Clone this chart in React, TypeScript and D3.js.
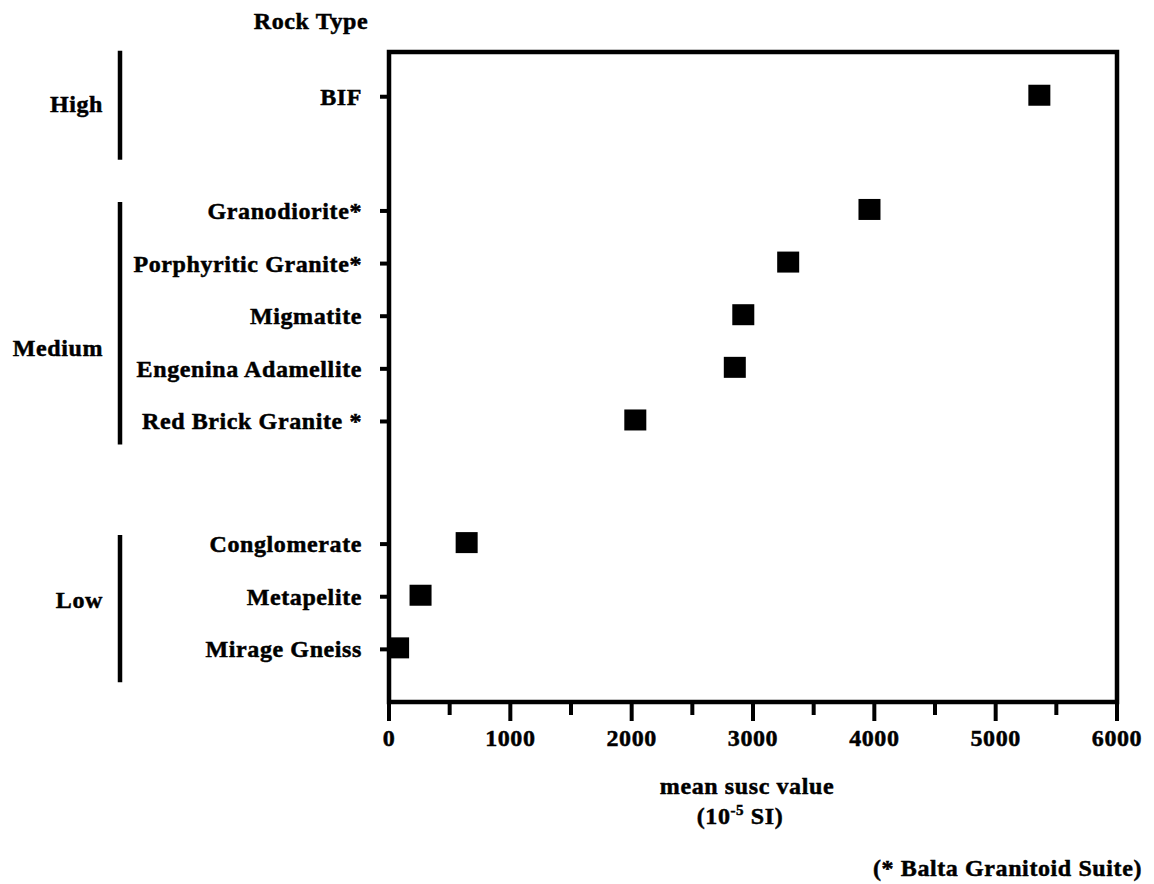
import React from "react";
import * as d3 from "d3";

// rock types, top to bottom
const ROCKS = [
  "BIF",
  "Granodiorite*",
  "Porphyritic Granite*",
  "Migmatite",
  "Engenina Adamellite",
  "Red Brick Granite *",
  "Conglomerate",
  "Metapelite",
  "Mirage Gneiss",
];
// mean susceptibility (10^-5 SI)
const SUSC = [5360, 3960, 3290, 2920, 2850, 2030, 640, 260, 75];
// row position on the (hidden) vertical axis
const ROW = [11.5, 9.33, 8.33, 7.33, 6.33, 5.33, 3, 2, 1];

const GROUPS = ["High", "Medium", "Low"];
const GROUP_MEMBERS = [[0], [1, 2, 3, 4, 5], [6, 7, 8]];

const X_MAJOR = [0, 1000, 2000, 3000, 4000, 5000, 6000];
const X_MINOR = [500, 1500, 2500, 3500, 4500, 5500];

const FONT = "'Liberation Serif', 'Times New Roman', Times, serif";

export default function App() {
  const width = 1154;
  const height = 884;

  const x = d3.scaleLinear().domain([0, 6000]).range([389, 1117]);
  const y = d3.scaleLinear().domain([0, 12.35]).range([702, 52]);

  const plotLeft = x(0);
  const plotRight = x(6000);
  const plotTop = y(12.35);
  const plotBottom = y(0);

  const sq = 22;

  // bar extents around the group members (px padding above / below)
  const groupPads = [
    [46, 63],
    [9, 23],
    [9, 33],
  ];
  const labelShift = [0, 26, -8];

  const txt = {
    fontFamily: FONT,
    fontWeight: 700,
    fontSize: 24,
    letterSpacing: 0.6,
    fill: "#000",
    stroke: "#000",
    strokeWidth: 0.5,
  } as React.CSSProperties;

  return (
    <svg
      width={width}
      height={height}
      viewBox={`0 0 ${width} ${height}`}
      style={{ position: "absolute", left: 0, top: 0, background: "#fff" }}
    >
      <rect x={0} y={0} width={width} height={height} fill="#fff" />

      <text x={311} y={29} textAnchor="middle" style={txt}>
        Rock Type
      </text>

      {/* frame */}
      <rect
        x={plotLeft}
        y={plotTop}
        width={plotRight - plotLeft}
        height={plotBottom - plotTop}
        fill="none"
        stroke="#000"
        strokeWidth={4.5}
      />

      {/* category ticks and labels */}
      {ROCKS.map((name, i) => (
        <g key={name}>
          <line
            x1={plotLeft - 9}
            x2={plotLeft}
            y1={y(ROW[i])}
            y2={y(ROW[i])}
            stroke="#000"
            strokeWidth={4}
          />
          <text x={362} y={y(ROW[i]) + 8} textAnchor="end" style={txt}>
            {name}
          </text>
        </g>
      ))}

      {/* group brackets */}
      {GROUPS.map((g, gi) => {
        const rows = GROUP_MEMBERS[gi].map((i) => y(ROW[i]));
        const top = (d3.min(rows) as number) - groupPads[gi][0];
        const bottom = (d3.max(rows) as number) + groupPads[gi][1];
        const mid = (top + bottom) / 2 + labelShift[gi];
        return (
          <g key={g}>
            <line
              x1={120}
              x2={120}
              y1={top}
              y2={bottom}
              stroke="#000"
              strokeWidth={4.5}
            />
            <text x={103} y={mid + 7} textAnchor="end" style={txt}>
              {g}
            </text>
          </g>
        );
      })}

      {/* x axis ticks */}
      {X_MINOR.map((v) => (
        <line
          key={`mi${v}`}
          x1={x(v)}
          x2={x(v)}
          y1={plotBottom}
          y2={plotBottom + 13}
          stroke="#000"
          strokeWidth={4}
        />
      ))}
      {X_MAJOR.map((v) => (
        <g key={`ma${v}`}>
          <line
            x1={x(v)}
            x2={x(v)}
            y1={plotBottom}
            y2={plotBottom + 19}
            stroke="#000"
            strokeWidth={4}
          />
          <text x={x(v)} y={746} textAnchor="middle" style={txt}>
            {d3.format("d")(v)}
          </text>
        </g>
      ))}

      {/* points */}
      {SUSC.map((v, i) => (
        <rect
          key={ROCKS[i]}
          x={x(v) - sq / 2}
          y={y(ROW[i]) - sq / 2 - 1}
          width={sq}
          height={sq - 1}
          fill="#000"
        />
      ))}

      {/* axis titles */}
      <text x={747} y={794} textAnchor="middle" style={txt}>
        mean susc value
      </text>
      <text x={740} y={824} textAnchor="middle" style={txt}>
        (10
        <tspan dy={-9} fontSize={15}>
          -5
        </tspan>
        <tspan dy={9}> SI)</tspan>
      </text>
      <text x={1142} y={876} textAnchor="end" style={txt}>
        (* Balta Granitoid Suite)
      </text>
    </svg>
  );
}
